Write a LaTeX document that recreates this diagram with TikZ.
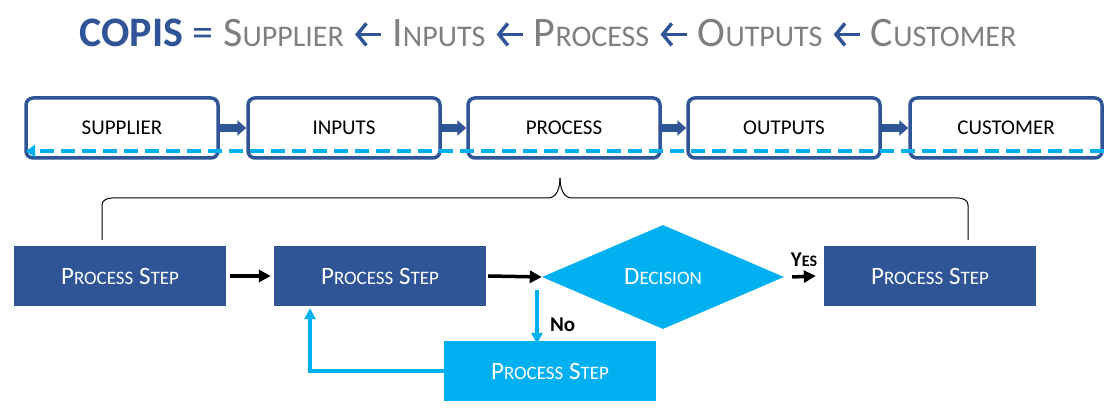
\documentclass[tikz,border=0pt]{standalone}
\usepackage{fontspec}
\setmainfont{Carlito}
\usetikzlibrary{shapes.geometric,arrows.meta}
\definecolor{dblue}{HTML}{2F5597}
\definecolor{lblue}{HTML}{00B0F0}
\definecolor{tgray}{HTML}{7F7F7F}
\newcommand{\sct}[2]{#1{\fontsize{19}{20}\selectfont #2}}
\newcommand{\tsc}[2]{#1{\fontsize{30}{32}\selectfont #2}}
\newcommand{\larrw}{\tikz[baseline=0pt]\draw[dblue,line width=3.5pt,-{Straight Barb[length=9pt,width=22pt]}] (26pt,12pt) -- (0,12pt);}
\begin{document}
\begin{tikzpicture}[x=1pt,y=-1pt,
  top/.style={draw=dblue,line width=3.5pt,rounded corners=7pt,minimum width=192pt,minimum height=60pt,font=\fontsize{21}{22}\selectfont,inner sep=0pt},
  step/.style={fill=#1,minimum width=212pt,minimum height=60pt,text=white,font=\fontsize{25}{26}\selectfont,inner sep=0pt},
  blk/.style={-{Triangle[length=9pt,width=15pt]},line width=8pt,dblue},
  barr/.style={-{Triangle[length=12pt,width=12pt]},line width=3.5pt},
  larr/.style={-{Triangle[length=11pt,width=11pt]},line width=3.5pt,lblue}]
\useasboundingbox (0,0) rectangle (1120,411);
\node[font=\fontsize{42}{44}\selectfont,text=tgray] (title) at (548,33) {\textbf{\color{dblue}COPIS} \color{dblue}= \color{tgray}\tsc{S}{UPPLIER} \larrw{} \tsc{I}{NPUTS} \larrw{} \tsc{P}{ROCESS} \larrw{} \tsc{O}{UTPUTS} \larrw{} \tsc{C}{USTOMER}};
\node[top] (s) at (122,128) {SUPPLIER};
\node[top] (i) at (344,128) {INPUTS};
\node[top] (p) at (564,128) {PROCESS};
\node[top] (o) at (784,128) {OUTPUTS};
\node[top] (c) at (1006,128) {CUSTOMER};
\foreach \a/\b in {s/i,i/p,p/o,o/c}{\draw[blk] (\a.east) -- (\b.west);}
\coordinate (de) at (1104,151);
\coordinate (ds) at (26,151);
\draw[lblue,line width=3.5pt,dash pattern=on 14pt off 7pt,-{Triangle[length=9pt,width=12pt]}] (de) -- (ds);
\coordinate (bl) at (102,240);
\coordinate (br) at (968,240);
\coordinate (bc) at (560,178);
\draw[line width=1pt] (bl) -- (102,205) to[out=90,in=180] (112,198) -- (548,198) to[out=0,in=-90] (bc);
\draw[line width=1pt] (br) -- (968,205) to[out=90,in=0] (958,198) -- (572,198) to[out=180,in=-90] (bc);
\node[step=dblue] (p1) at (120,276) {\sct{P}{ROCESS} \sct{S}{TEP}};
\node[step=dblue] (p2) at (380,276) {\sct{P}{ROCESS} \sct{S}{TEP}};
\node[diamond,fill=lblue,aspect=2.33,minimum width=242pt,minimum height=104pt,inner sep=0pt,text=white,font=\fontsize{25}{26}\selectfont] (d) at (663,277) {\sct{D}{ECISION}};
\node[step=dblue] (p4) at (930,276) {\sct{P}{ROCESS} \sct{S}{TEP}};
\node[step=lblue] (p5) at (550,371) {\sct{P}{ROCESS} \sct{S}{TEP}};
\draw[barr] (p1.east) ++(4,0) -- ([xshift=-3pt]p2.west);
\draw[barr] (p2.east) ++(2,0) -- (d.west);
\draw[barr] ([xshift=8pt]d.east) -- node[above=5pt,font=\bfseries\fontsize{21}{22}\selectfont]{Y{\fontsize{16}{17}\selectfont ES}} ([xshift=-8pt]p4.west);
\coordinate (nt) at (537,290);
\draw[larr] (nt) -- node[right=8pt,font=\bfseries\fontsize{21}{22}\selectfont,text=black,pos=0.65]{No} ([yshift=-3pt]p5.north -| nt);
\draw[larr] (p5.west) -- (310,371) -- ([yshift=-2pt]p2.south -| 310,0);
\end{tikzpicture}
\end{document}
